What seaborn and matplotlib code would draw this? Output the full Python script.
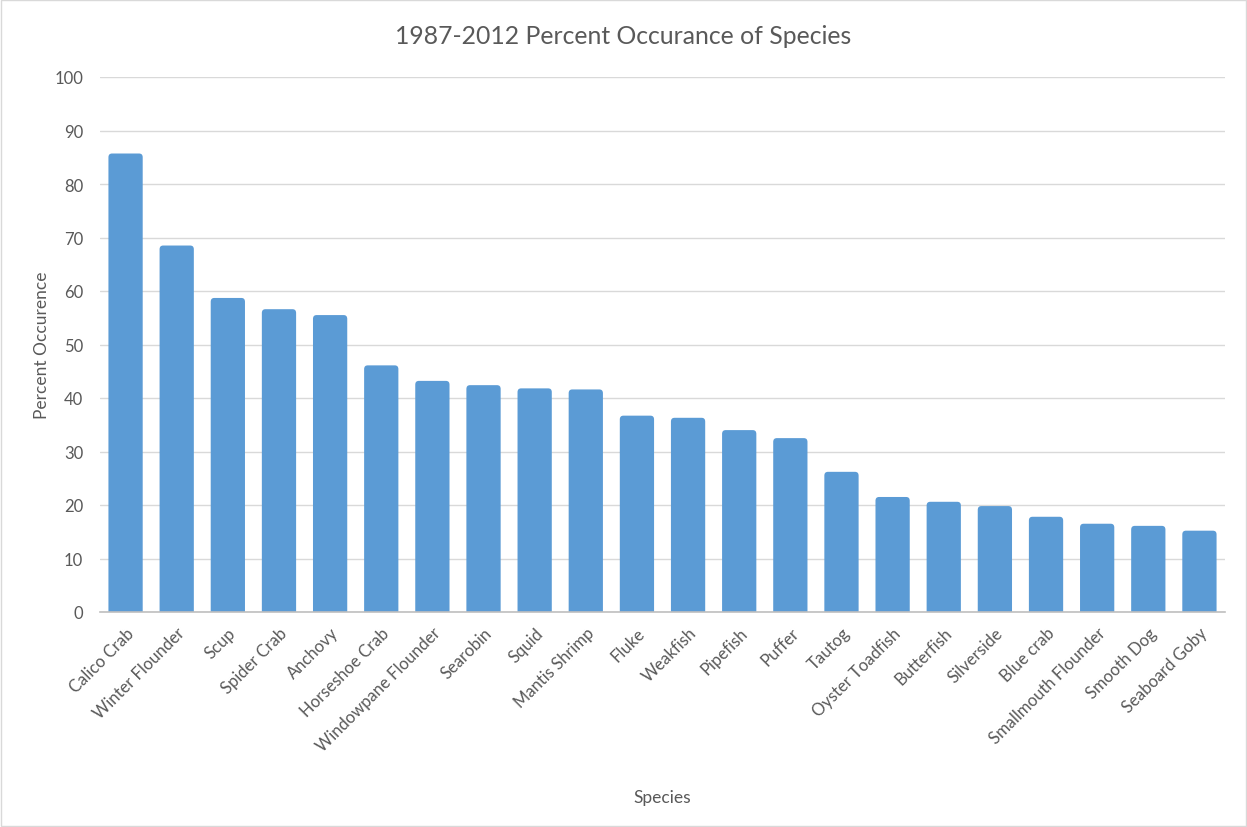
import matplotlib
matplotlib.use("Agg")
import matplotlib.pyplot as plt
from matplotlib.patches import FancyBboxPatch, Rectangle
import seaborn as sns
import pandas as pd

species = [
    "Calico Crab", "Winter Flounder", "Scup", "Spider Crab", "Anchovy",
    "Horseshoe Crab", "Windowpane Flounder", "Searobin", "Squid",
    "Mantis Shrimp", "Fluke", "Weakfish", "Pipefish", "Puffer", "Tautog",
    "Oyster Toadfish", "Butterfish", "Silverside", "Blue crab",
    "Smallmouth Flounder", "Smooth Dog", "Seaboard Goby",
]
percent = [
    85.7, 68.5, 58.7, 56.6, 55.5, 46.1, 43.2, 42.4, 41.8, 41.6, 36.7,
    36.3, 34.0, 32.5, 26.2, 21.5, 20.6, 19.8, 17.8, 16.5, 16.1, 15.2,
]
y_ticks = [0, 10, 20, 30, 40, 50, 60, 70, 80, 90, 100]

title = "1987-2012 Percent Occurance of Species"
x_label = "Species"
y_label = "Percent Occurence"

bar_color = "#5B9BD5"
text_color = "#595959"

sns.set_theme(style="white")
plt.rcParams["font.family"] = ["Lato", "DejaVu Sans"]

df = pd.DataFrame({"species": species, "percent": percent})

fig = plt.figure(figsize=(12.47, 8.28), dpi=100)
ax = fig.add_axes([100 / 1247, 1 - 613 / 828, 1125 / 1247, 535 / 828])

sns.barplot(data=df, x="species", y="percent", color=bar_color,
            saturation=1, width=0.67, ax=ax)

# Swap plain rectangles for bars with softly rounded tops
for bar in list(ax.patches):
    x0, w, h = bar.get_x(), bar.get_width(), bar.get_height()
    r = 0.07
    rounded = FancyBboxPatch(
        (x0, -1.0), w, h + 1.0,
        boxstyle=f"round,pad=0,rounding_size={r}",
        mutation_aspect=10.0,
        facecolor=bar_color, edgecolor="none", zorder=2,
    )
    bar.remove()
    ax.add_patch(rounded)

ax.set_ylim(0, 100)
ax.set_xlim(-0.5, len(species) - 0.5)
ax.set_yticks(y_ticks)
ax.set_yticklabels([str(t) for t in y_ticks])
ax.yaxis.grid(True, color="#D9D9D9", linewidth=1.0, zorder=0)
ax.set_axisbelow(True)

for side in ["top", "right", "left"]:
    ax.spines[side].set_visible(False)
ax.spines["bottom"].set_color("#BFBFBF")
ax.spines["bottom"].set_linewidth(1.2)

ax.tick_params(axis="both", length=0, colors=text_color, labelsize=12)
ax.tick_params(axis="y", pad=12)
ax.tick_params(axis="x", pad=9)
for lab in ax.get_xticklabels():
    lab.set_rotation(45)
    lab.set_ha("right")
    lab.set_rotation_mode("anchor")
    lab.set_fontsize(12)

ax.set_xlabel(x_label, fontsize=12.5, color=text_color)
ax.set_ylabel(y_label, fontsize=12.5, color=text_color)
ax.xaxis.set_label_coords(0.5, -(790 - 613) / 535)
ax.yaxis.set_label_coords(-(100 - 50) / 1125, 0.5)

fig.suptitle(title, y=1 - 36 / 828, va="center", fontsize=17.8,
             color=text_color)

fig.patches.append(Rectangle((0.0008, 0.0012), 0.9984, 0.9976,
                             transform=fig.transFigure, fill=False,
                             edgecolor="#D9D9D9", linewidth=1.0))

fig.savefig("out.png", dpi=100, facecolor="white")
